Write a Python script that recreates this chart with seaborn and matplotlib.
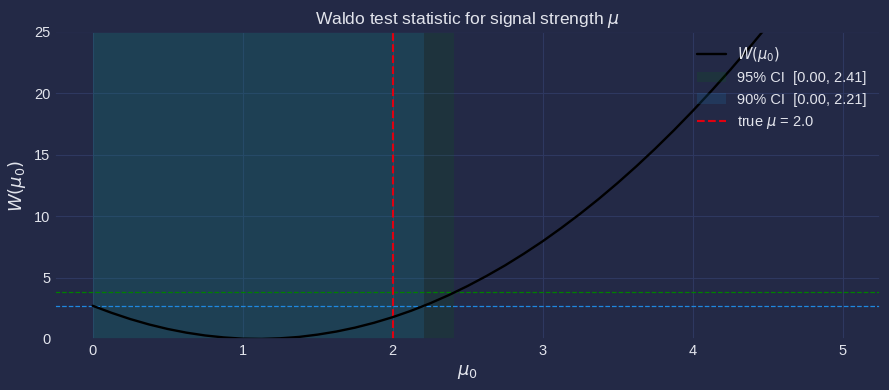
import numpy as np
import pandas as pd
import matplotlib
matplotlib.use("Agg")
import matplotlib.pyplot as plt
import seaborn as sns

# Waldo statistic W(mu0)
mu0 = [0.0, 0.125, 0.25, 0.375, 0.5, 0.625, 0.75, 0.875, 1.0, 1.125,
       1.25, 1.375, 1.5, 1.625, 1.75, 1.875, 2.0, 2.125, 2.25, 2.375,
       2.5, 2.625, 2.75, 2.875, 3.0, 3.125, 3.25, 3.375, 3.5, 3.625,
       3.75, 3.875, 4.0, 4.125, 4.25, 4.375, 4.5, 4.625, 4.75, 4.875, 5.0]
w_vals = [2.70, 2.13, 1.62, 1.18, 0.81, 0.51, 0.28, 0.12, 0.02, 0.00,
          0.05, 0.16, 0.35, 0.60, 0.92, 1.31, 1.77, 2.30, 2.90, 3.57,
          4.31, 5.12, 5.99, 6.94, 7.95, 9.04, 10.19, 11.41, 12.70, 14.06,
          15.49, 16.99, 18.56, 20.20, 21.90, 23.68, 25.52, 27.44, 29.42, 31.47, 33.59]

ci95 = (0.00, 2.41)
ci90 = (0.00, 2.21)
crit95 = 3.84
crit90 = 2.71
true_mu = 2.0

bg = "#232946"
fg = "#e2e4ec"
sns.set_theme(style="darkgrid", rc={
    "figure.facecolor": bg,
    "axes.facecolor": bg,
    "axes.edgecolor": bg,
    "grid.color": "#2e3860",
    "grid.linewidth": 0.8,
    "text.color": fg,
    "axes.labelcolor": fg,
    "xtick.color": fg,
    "ytick.color": fg,
})
plt.rcParams["font.family"] = ["Liberation Sans", "DejaVu Sans"]

df = pd.DataFrame({"mu0": mu0, "W": w_vals})

fig, ax = plt.subplots(figsize=(8.89, 3.9), dpi=100)
fig.subplots_adjust(left=0.062, right=0.99, top=0.918, bottom=0.131)

ax.axvspan(ci95[0], ci95[1], color="green", alpha=0.12, lw=0,
           label=f"95% CI  [{ci95[0]:.2f}, {ci95[1]:.2f}]")
ax.axvspan(ci90[0], ci90[1], color="#1f77b4", alpha=0.2, lw=0,
           label=f"90% CI  [{ci90[0]:.2f}, {ci90[1]:.2f}]")
ax.axhline(crit95, color="green", ls="--", lw=0.9)
ax.axhline(crit90, color="#1f88e0", ls="--", lw=0.9)
ax.axvline(true_mu, color="#e00010", ls="--", lw=1.5, label=r"true $\mu$ = 2.0")
sns.lineplot(data=df, x="mu0", y="W", color="black", lw=1.7,
             label=r"$W(\mu_0)$", ax=ax)

ax.set_xlim(-0.25, 5.25)
ax.set_ylim(0, 25)
ax.set_xticks([0, 1, 2, 3, 4, 5])
ax.set_yticks([0, 5, 10, 15, 20, 25])
ax.tick_params(labelsize=10.5, length=0)
ax.set_xlabel(r"$\mu_0$", fontsize=13)
ax.set_ylabel(r"$W(\mu_0)$", fontsize=13)
ax.set_title(r"Waldo test statistic for signal strength $\mu$", fontsize=12.5, color=fg)

handles, labels = ax.get_legend_handles_labels()
order = [labels.index(r"$W(\mu_0)$"), 0, 1, labels.index(r"true $\mu$ = 2.0")]
ax.legend([handles[i] for i in order], [labels[i] for i in order],
          loc="upper right", frameon=False, fontsize=10.5, labelcolor=fg)

plt.savefig("out.png", dpi=100, facecolor=bg)
